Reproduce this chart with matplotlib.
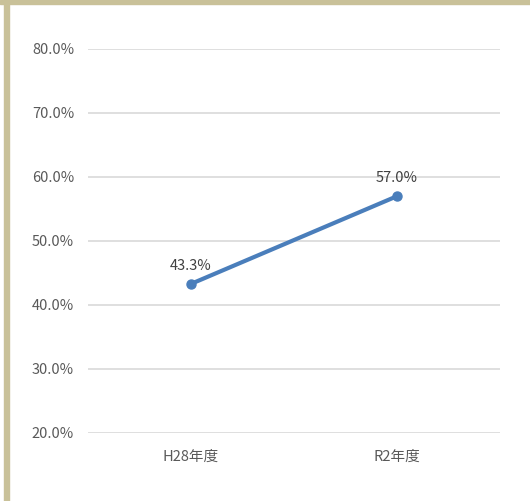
import matplotlib.pyplot as plt
from matplotlib.patches import Rectangle

categories = ['H28年度', 'R2年度']
values = [0.433, 0.570]
labels = ['43.3%', '57.0%']
yticks = [0.2, 0.3, 0.4, 0.5, 0.6, 0.7, 0.8]

plt.rcParams['font.family'] = ['Noto Sans CJK JP', 'DejaVu Sans']

W, H = 530, 501
fig = plt.figure(figsize=(W / 100, H / 100), dpi=100)
ax = fig.add_axes([88 / W, 1 - 433 / H, 412 / W, 384 / H])

# borde del gráfico (solo arriba e izquierda visibles)
borde = '#c9c199'
fig.patches.append(Rectangle((0, 1 - 3.5 / H), 1, 3.5 / H, transform=fig.transFigure,
                             color=borde, zorder=0))
fig.patches.append(Rectangle((4 / W, 0), 4.5 / W, 1, transform=fig.transFigure,
                             color=borde, zorder=0))

x = list(range(len(categories)))
ax.plot(x, values, color='#4a7ebb', lw=3, marker='o', markersize=6.5, zorder=3,
        solid_capstyle='round')
for xi, v, t in zip(x, values, labels):
    ax.annotate(t, (xi, v), xytext=(0, 8), textcoords='offset points',
                ha='center', va='bottom', fontsize=10.5, color='#404040')

ax.set_xlim(-0.5, 1.5)
ax.set_ylim(0.2, 0.8)
ax.set_yticks(yticks)
ax.set_yticklabels([f'{t * 100:.1f}%' for t in yticks])
ax.set_xticks(x)
ax.set_xticklabels(categories)
ax.grid(axis='y', color='#d9d9d9', lw=1.2)
ax.set_axisbelow(True)
for s in ax.spines.values():
    s.set_visible(False)
ax.tick_params(length=0, labelsize=10.5, labelcolor='#595959')
ax.tick_params(axis='y', pad=10)
ax.tick_params(axis='x', pad=12)

fig.savefig('out.png', dpi=100)
